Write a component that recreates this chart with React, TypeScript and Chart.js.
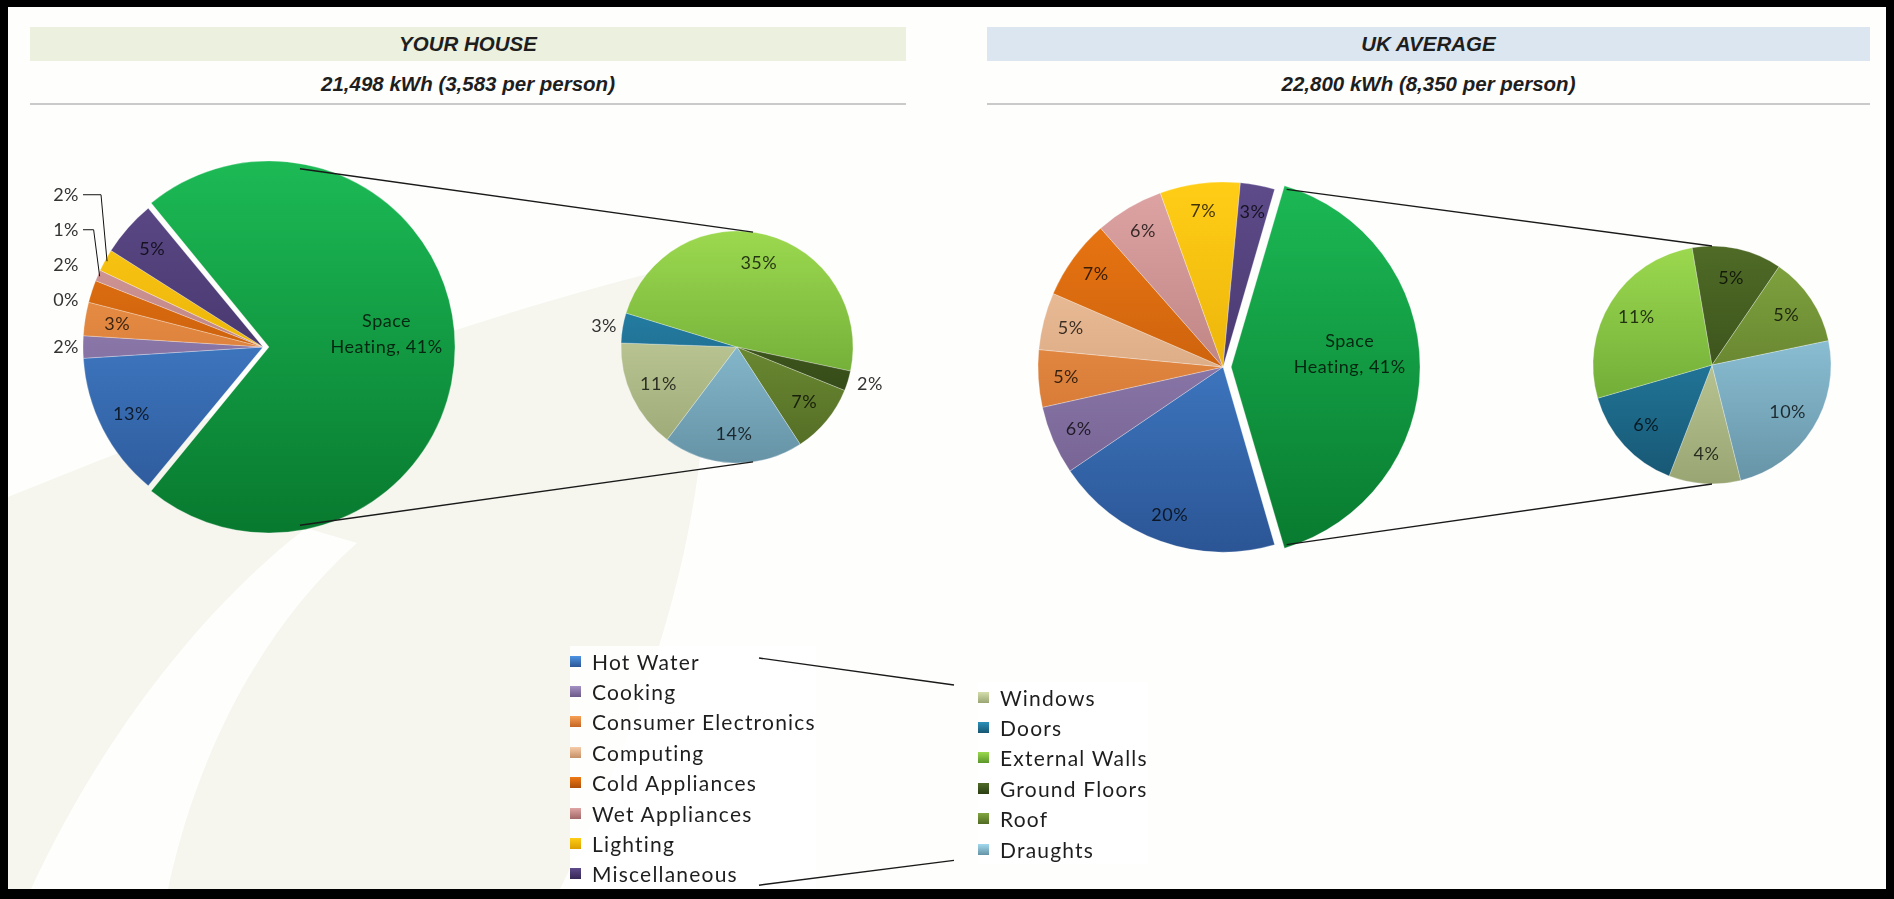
import React, { useEffect, useRef } from "react";
import { Chart, registerables } from "chart.js";

Chart.register(...registerables);

// ---------------- data ----------------
const spaceHeatingName = "Space Heating";
const useCategories = [
  "Hot Water",
  "Cooking",
  "Consumer Electronics",
  "Computing",
  "Cold Appliances",
  "Wet Appliances",
  "Lighting",
  "Miscellaneous",
];
const heatingCategories = ["Windows", "Doors", "External Walls", "Ground Floors", "Roof", "Draughts"];

const yourHouseUses = [13, 2, 3, 0, 2, 1, 2, 5];
const yourHouseHeating = [11, 3, 35, 2, 7, 14];
const ukAverageUses = [20, 6, 5, 5, 7, 6, 7, 3];
const ukAverageHeating = [4, 6, 11, 5, 5, 10];

const yourHouseHeatingLabel = ["Space", "Heating, 41%"];
const ukAverageHeatingLabel = ["Space", "Heating, 41%"];

const panelTitles = ["YOUR HOUSE", "UK AVERAGE"];
const panelTotals = ["21,498 kWh (3,583 per person)", "22,800 kWh (8,350 per person)"];

// ---------------- styles ----------------
const spaceHeatingColor = ["#1CB955", "#087A2F"];
const useColors = [
  ["#4E94E4", "#2B5595"],
  ["#A591C4", "#6B5989"],
  ["#F8A156", "#C46524"],
  ["#F7CCA8", "#C48F66"],
  ["#EF7913", "#AE4E08"],
  ["#DEA5A4", "#A26766"],
  ["#FFCD16", "#DB9F00"],
  ["#5E4B8A", "#352756"],
];
const heatingColors = [
  ["#D4DEAC", "#99A674"],
  ["#2A91BB", "#175672"],
  ["#9CD94F", "#5B962B"],
  ["#4F6B26", "#2B3E13"],
  ["#82A640", "#516A23"],
  ["#A1D9EF", "#6693A6"],
];

const PANELS = [
  {
    band: { x: 30, w: 876, color: "#EBF1DE" },
    main: { x: 23, y: 147, w: 480, h: 400, r: 180, k: 0.82 },
    sub: { x: 577, y: 197, w: 320, h: 300, r: 116, rotation: 217 },
  },
  {
    band: { x: 987, w: 883, color: "#DCE6F1" },
    main: { x: 1013, y: 157, w: 420, h: 420, r: 185, k: 0.85 },
    sub: { x: 1572, y: 225, w: 280, h: 280, r: 119, rotation: 166 },
  },
];

const LEGEND = { left: { x: 570, y: 646 }, right: { x: 978, y: 682 }, rowH: 30.4 };
const LABEL_FONT = '18px "Lato", "Noto Sans", sans-serif';
const HEADER_FONT = 'italic bold 20.5px "Liberation Sans", Arial, sans-serif';

// ---------------- helpers ----------------
function arcShift(el: any) {
  const off = (el.options && el.options.offset ? el.options.offset : 0) / 4;
  const circ = el.endAngle - el.startAngle;
  const fix = 1 - Math.sin(Math.min(Math.PI, circ || 0));
  return off + off * fix;
}

function gradientFill(colors: string[][], radius: number) {
  return (c: any) => {
    const idx = typeof c.dataIndex === "number" ? c.dataIndex : 0;
    const pair = colors[idx] || colors[0];
    const area = c.chart.chartArea;
    if (!area) return pair[0];
    const cy = (area.top + area.bottom) / 2;
    const g = c.chart.ctx.createLinearGradient(0, cy - radius, 0, cy + radius);
    g.addColorStop(0, pair[0]);
    g.addColorStop(1, pair[1]);
    return g;
  };
}

function makeLabelPlugin(cfg: any) {
  return {
    id: "sliceLabels",
    afterDatasetsDraw(chart: any) {
      const meta = chart.getDatasetMeta(0);
      const ctx: CanvasRenderingContext2D = chart.ctx;
      ctx.save();
      ctx.font = LABEL_FONT;
      (ctx as any).letterSpacing = "0.5px";
      ctx.textBaseline = "middle";
      const outside: any[] = [];
      meta.data.forEach((el: any, i: number) => {
        const mid = (el.startAngle + el.endAngle) / 2;
        const t = arcShift(el);
        const cx = el.x + Math.cos(mid) * t;
        const cy = el.y + Math.sin(mid) * t;
        const r = el.outerRadius;
        const lines: string[] = cfg.texts[i];
        const k = i === 0 && cfg.firstK ? cfg.firstK : cfg.insideK;
        const width = Math.max(...lines.map((l) => ctx.measureText(l).width));
        const arcLen = (el.endAngle - el.startAngle) * r * k;
        if (arcLen < width) {
          outside.push({
            mid,
            cx,
            cy,
            r,
            text: lines.join(" "),
            side: Math.cos(mid) < 0 ? -1 : 1,
            ny: cy + Math.sin(mid) * (r + 10),
          });
          return;
        }
        const lx = cx + Math.cos(mid) * r * k;
        const ly = cy + Math.sin(mid) * r * k;
        ctx.fillStyle = "rgba(0,0,0,0.75)";
        ctx.textAlign = "center";
        lines.forEach((ln, j) => ctx.fillText(ln, lx, ly - (lines.length - 1 - j) * 26));
      });
      [-1, 1].forEach((side) => {
        const group = outside.filter((o) => o.side === side).sort((a, b) => b.ny - a.ny);
        let prev = Infinity;
        group.forEach((o) => {
          const y = Math.min(o.ny, prev - 35);
          prev = y;
          const colX = o.cx + side * (o.r + 4);
          ctx.fillStyle = "#333";
          ctx.textAlign = side < 0 ? "right" : "left";
          ctx.fillText(o.text, colX, y);
          const ax = o.cx + Math.cos(o.mid) * (o.r - 2);
          const ay = o.cy + Math.sin(o.mid) * (o.r - 2);
          if (Math.abs(ay - y) > 35) {
            ctx.beginPath();
            ctx.moveTo(colX - side * 4, y);
            ctx.lineTo(ax + side * 6, y);
            ctx.lineTo(ax, ay);
            ctx.strokeStyle = "#111";
            ctx.lineWidth = 1;
            ctx.stroke();
          }
        });
      });
      ctx.restore();
    },
  };
}

function sum(a: number[]) {
  return a.reduce((s, v) => s + v, 0);
}

function buildMain(canvas: HTMLCanvasElement, uses: number[], heating: number[], heatingLabel: string[], spec: any) {
  const heatingTotal = sum(heating);
  const values = [heatingTotal, ...uses];
  const share = heatingTotal / sum(values);
  const fix = 1 - Math.sin(Math.min(Math.PI, share * 2 * Math.PI));
  const explode = 12;
  const offsetParam = (explode * 4) / (1 + fix);
  const texts = [heatingLabel, ...uses.map((v) => [`${v}%`])];
  return new Chart(canvas, {
    type: "pie",
    data: {
      labels: [spaceHeatingName, ...useCategories],
      datasets: [
        {
          data: values,
          backgroundColor: gradientFill([spaceHeatingColor, ...useColors], spec.r),
          borderColor: "rgba(255,255,255,0.35)",
          borderWidth: 0.8,
          offset: values.map((_, i) => (i === 0 ? offsetParam : 0)),
        },
      ],
    },
    options: {
      responsive: false,
      animation: false,
      events: [],
      radius: spec.r,
      rotation: 90 - share * 180,
      layout: { padding: 0 },
      plugins: { legend: { display: false }, tooltip: { enabled: false } },
    } as any,
    plugins: [makeLabelPlugin({ texts, insideK: spec.k, firstK: 0.62 })],
  });
}

function buildSub(canvas: HTMLCanvasElement, heating: number[], spec: any) {
  const texts = heating.map((v) => [`${v}%`]);
  return new Chart(canvas, {
    type: "pie",
    data: {
      labels: heatingCategories,
      datasets: [
        {
          data: heating,
          backgroundColor: gradientFill(heatingColors, spec.r),
          borderColor: "rgba(255,255,255,0.35)",
          borderWidth: 0.8,
        },
      ],
    },
    options: {
      responsive: false,
      animation: false,
      events: [],
      radius: spec.r,
      rotation: spec.rotation,
      layout: { padding: 0 },
      plugins: { legend: { display: false }, tooltip: { enabled: false } },
    } as any,
    plugins: [makeLabelPlugin({ texts, insideK: 0.75 })],
  });
}

function drawConnectors(ctx: CanvasRenderingContext2D, main: Chart, sub: Chart, mPos: any, sPos: any) {
  const g: any = main.getDatasetMeta(0).data[0];
  const mid = (g.startAngle + g.endAngle) / 2;
  const half = (g.endAngle - g.startAngle) / 2;
  const t = arcShift(g);
  const c1 = { x: mPos.x + g.x + Math.cos(mid) * t, y: mPos.y + g.y + Math.sin(mid) * t };
  const R1 = g.outerRadius;
  const s0: any = sub.getDatasetMeta(0).data[0];
  const c2 = { x: sPos.x + s0.x, y: sPos.y + s0.y };
  const R2 = s0.outerRadius;
  const dx = c2.x - c1.x;
  const dy = c2.y - c1.y;
  const L = Math.hypot(dx, dy);
  const phi = Math.atan2(dy, dx);
  const beta = Math.acos((R1 - R2) / L);
  ctx.strokeStyle = "#1a1a1a";
  ctx.lineWidth = 1.4;
  [-1, 1].forEach((sgn) => {
    const th = phi + sgn * beta;
    let d = Math.atan2(Math.sin(th - mid), Math.cos(th - mid));
    const clamped = Math.abs(d) > half;
    d = Math.max(-half, Math.min(half, d));
    const a1 = mid + d;
    const p1 = { x: c1.x + Math.cos(a1) * R1, y: c1.y + Math.sin(a1) * R1 };
    const a2 = clamped ? (sgn * Math.PI) / 2 : th;
    const p2 = { x: c2.x + Math.cos(a2) * R2, y: c2.y + Math.sin(a2) * R2 };
    ctx.beginPath();
    ctx.moveTo(p1.x, p1.y);
    ctx.lineTo(p2.x, p2.y);
    ctx.stroke();
  });
}

function LegendColumn({ items, colors, x, y }: any) {
  return (
    <div style={{ position: "absolute", left: x, top: y, background: "rgba(255,255,255,0.85)" }}>
      {items.map((name: string, i: number) => (
        <div key={name} style={{ height: LEGEND.rowH, display: "flex", alignItems: "center" }}>
          <span
            style={{
              width: 11,
              height: 11,
              flex: "none",
              marginRight: 11,
              background: `linear-gradient(${colors[i][0]}, ${colors[i][1]})`,
            }}
          />
          <span
            style={{
              font: '21px "Lato", "Noto Sans", sans-serif',
              letterSpacing: "1.2px",
              color: "#1e1e1e",
              whiteSpace: "nowrap",
            }}
          >
            {name}
          </span>
        </div>
      ))}
    </div>
  );
}

export default function App() {
  const mainL = useRef<HTMLCanvasElement>(null);
  const subL = useRef<HTMLCanvasElement>(null);
  const mainR = useRef<HTMLCanvasElement>(null);
  const subR = useRef<HTMLCanvasElement>(null);
  const overlay = useRef<HTMLCanvasElement>(null);

  useEffect(() => {
    const charts: Chart[] = [];
    const mL = buildMain(mainL.current!, yourHouseUses, yourHouseHeating, yourHouseHeatingLabel, PANELS[0].main);
    const sL = buildSub(subL.current!, yourHouseHeating, PANELS[0].sub);
    const mR = buildMain(mainR.current!, ukAverageUses, ukAverageHeating, ukAverageHeatingLabel, PANELS[1].main);
    const sR = buildSub(subR.current!, ukAverageHeating, PANELS[1].sub);
    charts.push(mL, sL, mR, sR);
    const octx = overlay.current!.getContext("2d")!;
    octx.clearRect(0, 0, 1894, 899);
    drawConnectors(octx, mL, sL, PANELS[0].main, PANELS[0].sub);
    drawConnectors(octx, mR, sR, PANELS[1].main, PANELS[1].sub);
    return () => charts.forEach((c) => c.destroy());
  }, []);

  const canvasStyle = (s: any) => ({ position: "absolute" as const, left: s.x, top: s.y, width: s.w, height: s.h });
  const lb = LEGEND;
  const leftBottom = lb.left.y + useCategories.length * lb.rowH;
  const rightBottom = lb.right.y + heatingCategories.length * lb.rowH;

  return (
    <div style={{ position: "absolute", left: 0, top: 0, width: 1894, height: 899, background: "#000", overflow: "hidden" }}>
      <div style={{ position: "absolute", left: 8, top: 7, width: 1878, height: 882, background: "#FEFEFD", overflow: "hidden" }}>
        <svg width={1878} height={882} viewBox="8 7 1878 882" style={{ position: "absolute", left: 0, top: 0 }}>
          <path d="M8,497 C200,420 450,320 693,263 C730,420 680,650 560,889 L8,889 Z" fill="#F6F6EF" />
          <path d="M31,889 C100,740 200,610 306,528 L357,543 C270,620 200,740 168,889 Z" fill="#FEFEFD" />
        </svg>
      </div>
      {PANELS.map((p, i) => (
        <React.Fragment key={i}>
          <div
            style={{
              position: "absolute",
              left: p.band.x,
              top: 27,
              width: p.band.w,
              height: 34,
              background: p.band.color,
              display: "flex",
              alignItems: "center",
              justifyContent: "center",
              font: HEADER_FONT,
              color: "#1e1e1e",
            }}
          >
            {panelTitles[i]}
          </div>
          <div
            style={{
              position: "absolute",
              left: p.band.x,
              top: 72,
              width: p.band.w,
              height: 26,
              lineHeight: "26px",
              textAlign: "center",
              font: HEADER_FONT,
              color: "#1e1e1e",
            }}
          >
            {panelTotals[i]}
          </div>
          <div style={{ position: "absolute", left: p.band.x, top: 103, width: p.band.w, height: 2, background: "#CACACA" }} />
        </React.Fragment>
      ))}
      <canvas ref={mainL} width={PANELS[0].main.w} height={PANELS[0].main.h} style={canvasStyle(PANELS[0].main)} />
      <canvas ref={subL} width={PANELS[0].sub.w} height={PANELS[0].sub.h} style={canvasStyle(PANELS[0].sub)} />
      <canvas ref={mainR} width={PANELS[1].main.w} height={PANELS[1].main.h} style={canvasStyle(PANELS[1].main)} />
      <canvas ref={subR} width={PANELS[1].sub.w} height={PANELS[1].sub.h} style={canvasStyle(PANELS[1].sub)} />
      <canvas ref={overlay} width={1894} height={899} style={{ position: "absolute", left: 0, top: 0, width: 1894, height: 899, pointerEvents: "none" }} />
      <LegendColumn items={useCategories} colors={useColors} x={lb.left.x} y={lb.left.y} />
      <LegendColumn items={heatingCategories} colors={heatingColors} x={lb.right.x} y={lb.right.y} />
      <svg width={1894} height={899} style={{ position: "absolute", left: 0, top: 0, pointerEvents: "none" }}>
        <line x1={lb.left.x + 189} y1={lb.left.y + 12} x2={lb.right.x - 24} y2={lb.right.y + 3} stroke="#1a1a1a" strokeWidth={1.4} />
        <line x1={lb.left.x + 189} y1={leftBottom - 4} x2={lb.right.x - 24} y2={rightBottom - 4} stroke="#1a1a1a" strokeWidth={1.4} />
      </svg>
    </div>
  );
}
